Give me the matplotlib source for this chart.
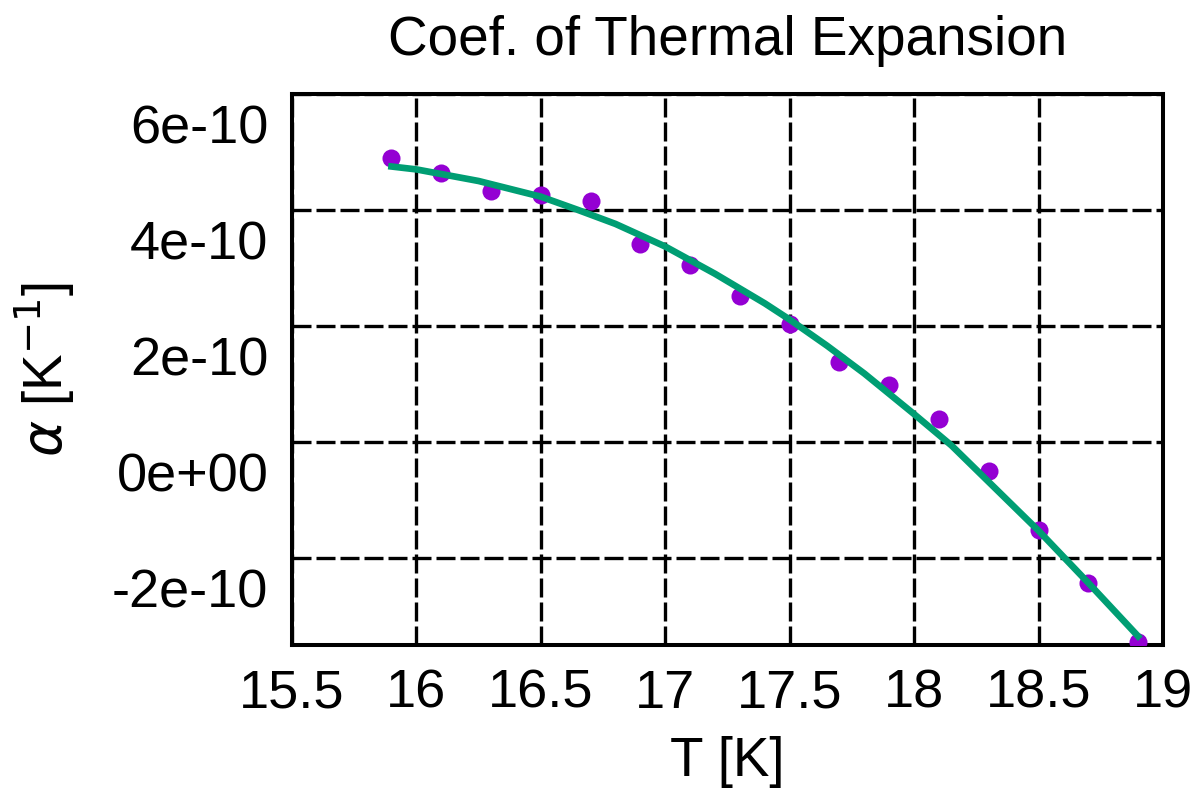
import numpy as np
import matplotlib
matplotlib.use('Agg')
import matplotlib.pyplot as plt
import matplotlib.transforms as mtransforms
from matplotlib.ticker import FuncFormatter

plt.rcParams['font.family'] = ['Liberation Sans', 'DejaVu Sans']
plt.rcParams['mathtext.fontset'] = 'dejavusans'

# measured points
T = [15.9, 16.1, 16.3, 16.5, 16.7, 16.9, 17.1, 17.3,
     17.5, 17.7, 17.9, 18.1, 18.3, 18.5, 18.7, 18.9]
alpha = [4.90, 4.64, 4.32, 4.26, 4.15, 3.42, 3.06, 2.51,
         2.03, 1.38, 0.98, 0.40, -0.50, -1.52, -2.43, -3.45]  # x 1e-10

# fitted curve
T_fit = [15.9, 16.0, 16.25, 16.5, 16.65, 16.8, 17.0, 17.2, 17.4,
         17.5, 17.65, 17.8, 18.0, 18.15, 18.35, 18.5, 18.7, 18.9]
alpha_fit = [4.75, 4.70, 4.50, 4.23, 4.00, 3.76, 3.37, 2.90, 2.39,
             2.11, 1.66, 1.18, 0.48, -0.06, -0.90, -1.53, -2.43, -3.35]  # x 1e-10

xticks = [15.5, 16, 16.5, 17, 17.5, 18, 18.5, 19]
yticks = [-2, 0, 2, 4, 6]  # x 1e-10

scale = 1e-10

fig = plt.figure(figsize=(11.97, 7.94), dpi=100)
ax = fig.add_axes([0.2439, 0.1877, 0.7277, 0.6939])

ax.plot(T, np.array(alpha) * scale, 'o', color='#9400d3', markersize=13,
        markeredgewidth=0, zorder=3)
ax.plot(T_fit, np.array(alpha_fit) * scale, '-', color='#009e73',
        linewidth=4.8, zorder=4, solid_joinstyle='round')

ax.set_xlim(15.5, 19)
ax.set_ylim(-3.5e-10, 6e-10)
ax.set_xticks(xticks)
ax.set_xticklabels([f'{v:g}' for v in xticks])
ax.set_yticks(np.array(yticks) * scale)
ax.yaxis.set_major_formatter(FuncFormatter(lambda v, p: f'{v:.0e}'))

ax.tick_params(length=0, labelsize=39)
ax.tick_params(axis='y', pad=17)
ax.tick_params(axis='x', pad=17)

ax.grid(True, color='black', linewidth=2.4, linestyle=(0, (5.7, 1.5)), zorder=1)
ax.set_axisbelow(True)
for s in ax.spines.values():
    s.set_linewidth(2.9)

# labels sit below their grid lines in the original
offset = mtransforms.ScaledTranslation(0, -0.30, fig.dpi_scale_trans)
for lab in ax.get_yticklabels():
    lab.set_transform(lab.get_transform() + offset)

ax.set_title('Coef. of Thermal Expansion', fontsize=39.5, pad=28)
ax.set_xlabel('T [K]', fontsize=39.5, va='top')
ax.xaxis.set_label_coords(0.5, -0.165)
ax.set_ylabel(r'$\alpha$ [K$^{-1}$]', fontsize=39.5)
ax.yaxis.set_label_coords(-0.248, 0.5)

fig.savefig('out.png', dpi=100)
